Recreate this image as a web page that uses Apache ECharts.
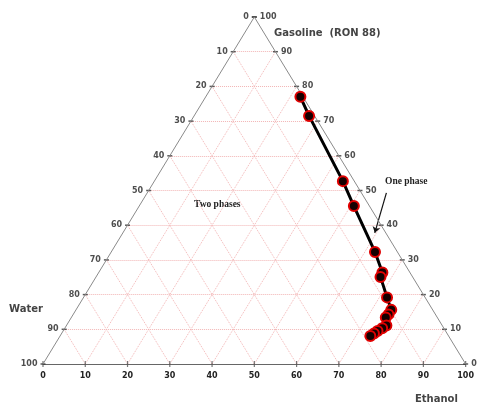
<!DOCTYPE html>
<html>
<head>
<meta charset="utf-8">
<script src="https://cdn.jsdelivr.net/npm/echarts@6/dist/echarts.min.js"></script>
<style>
html, body { margin: 0; padding: 0; background: #fff; }
#chart { width: 477px; height: 403px; }
</style>
</head>
<body>
<div id="chart"></div>
<script>
// binodal points, % composition
var gasoline = [77.0, 71.5, 52.7, 45.5, 32.3, 26.4, 25.1, 19.2, 15.6, 14.3, 13.4, 11.1, 10.3, 9.5, 8.8, 8.1];
var ethanol  = [22.4, 27.2, 44.6, 50.8, 62.4, 67.1, 67.3, 71.8, 74.6, 74.6, 74.4, 75.7, 75.1, 74.4, 73.9, 73.4];
var water    = [0.6, 1.3, 2.7, 3.7, 5.3, 6.5, 7.6, 9.0, 9.8, 11.1, 12.2, 13.2, 14.6, 16.1, 17.3, 18.5];
var ticks = [0, 10, 20, 30, 40, 50, 60, 70, 80, 90, 100];

// ethanol / gasoline -> x / y of the (sheared) triangle
function toXY(e, g) {
	return [e + g / 2, g];
}

var myChart = echarts.init(document.getElementById('chart'));

var gridLines = [];
ticks.forEach(function (t) {
	if (t == 0 || t == 100) return;
	gridLines.push({coords: [toXY(0, t), toXY(100 - t, t)]});   // gasoline const
	gridLines.push({coords: [toXY(t, 0), toXY(t, 100 - t)]});   // ethanol const
	gridLines.push({coords: [toXY(100 - t, 0), toXY(0, 100 - t)]}); // water const
});

var leftTicks = ticks.map(function (w) {
	var p = toXY(0, 100 - w);
	return [p[0], p[1], w];
});
var rightTicks = ticks.map(function (g) {
	var p = toXY(100 - g, g);
	return [p[0], p[1], g];
});
var bottomTicks = ticks.map(function (e) {
	return toXY(e, 0);
});

var points = gasoline.map(function (g, i) {
	var p = toXY(ethanol[i], g);
	return [p[0], p[1], water[i]];
});

var tickLabel = {
	show: true,
	fontSize: 8,
	fontWeight: 'bold',
	fontFamily: 'DejaVu Sans',
	color: '#222',
	formatter: function (p) { return p.value[2]; }
};

var option = {
	animation: false,
	grid: {left: 43, right: 10, top: 17, bottom: 39},
	xAxis: {
		type: 'value',
		min: 0,
		max: 100,
		interval: 10,
		axisLine: {lineStyle: {color: '#666', width: 1}},
		axisTick: {show: false},
		axisLabel: {fontSize: 8, fontWeight: 'bold', fontFamily: 'DejaVu Sans', color: '#222', margin: 8},
		splitLine: {show: false}
	},
	yAxis: {
		type: 'value',
		min: 0,
		max: 100,
		show: false
	},
	series: [
		{
			type: 'lines',
			coordinateSystem: 'cartesian2d',
			silent: true,
			lineStyle: {color: '#f2b4b4', type: 'dotted', width: 1, opacity: 1},
			data: gridLines
		},
		{
			type: 'line',
			silent: true,
			symbol: 'none',
			lineStyle: {color: '#8a8a8a', width: 1},
			data: [toXY(0, 0), toXY(0, 100), toXY(100, 0)]
		},
		{
			type: 'scatter',
			silent: true,
			symbol: 'rect',
			symbolSize: [5, 1.5],
			itemStyle: {color: '#333'},
			label: Object.assign({position: 'left', distance: 3}, tickLabel),
			data: leftTicks
		},
		{
			type: 'scatter',
			silent: true,
			symbol: 'rect',
			symbolSize: [5, 1.5],
			itemStyle: {color: '#333'},
			label: Object.assign({position: 'right', distance: 3}, tickLabel),
			data: rightTicks
		},
		{
			type: 'scatter',
			silent: true,
			symbol: 'rect',
			symbolSize: [1.2, 6],
			itemStyle: {color: '#555'},
			data: bottomTicks
		},
		{
			type: 'lines',
			coordinateSystem: 'cartesian2d',
			silent: true,
			symbol: ['none', 'arrow'],
			symbolSize: 6,
			lineStyle: {color: '#111', width: 1.2, opacity: 1},
			data: [{coords: [toXY(56.6, 49.3), toXY(59.6, 37.8)]}]
		},
		{
			name: 'binodal',
			type: 'line',
			symbol: 'circle',
			symbolSize: 10,
			lineStyle: {color: '#000', width: 3},
			itemStyle: {color: '#150000', borderColor: '#e00000', borderWidth: 2},
			data: points,
			z: 5
		}
	],
	graphic: [
		{type: 'text', left: 274, top: 28, style: {text: 'Gasoline  (RON 88)', font: 'bold 10px "DejaVu Sans"', fill: '#444'}},
		{type: 'text', left: 9, top: 304, style: {text: 'Water', font: 'bold 10px "DejaVu Sans"', fill: '#444'}},
		{type: 'text', left: 415, top: 394, style: {text: 'Ethanol', font: 'bold 10px "DejaVu Sans"', fill: '#444'}},
		{type: 'text', left: 194, top: 200, style: {text: 'Two phases', font: 'bold 9.5px "Liberation Serif"', fill: '#222'}},
		{type: 'text', left: 385, top: 177, style: {text: 'One phase', font: 'bold 9.5px "Liberation Serif"', fill: '#222'}}
	]
};

myChart.setOption(option);
window.addEventListener('resize', function () {
	myChart.resize();
});
</script>
</body>
</html>
